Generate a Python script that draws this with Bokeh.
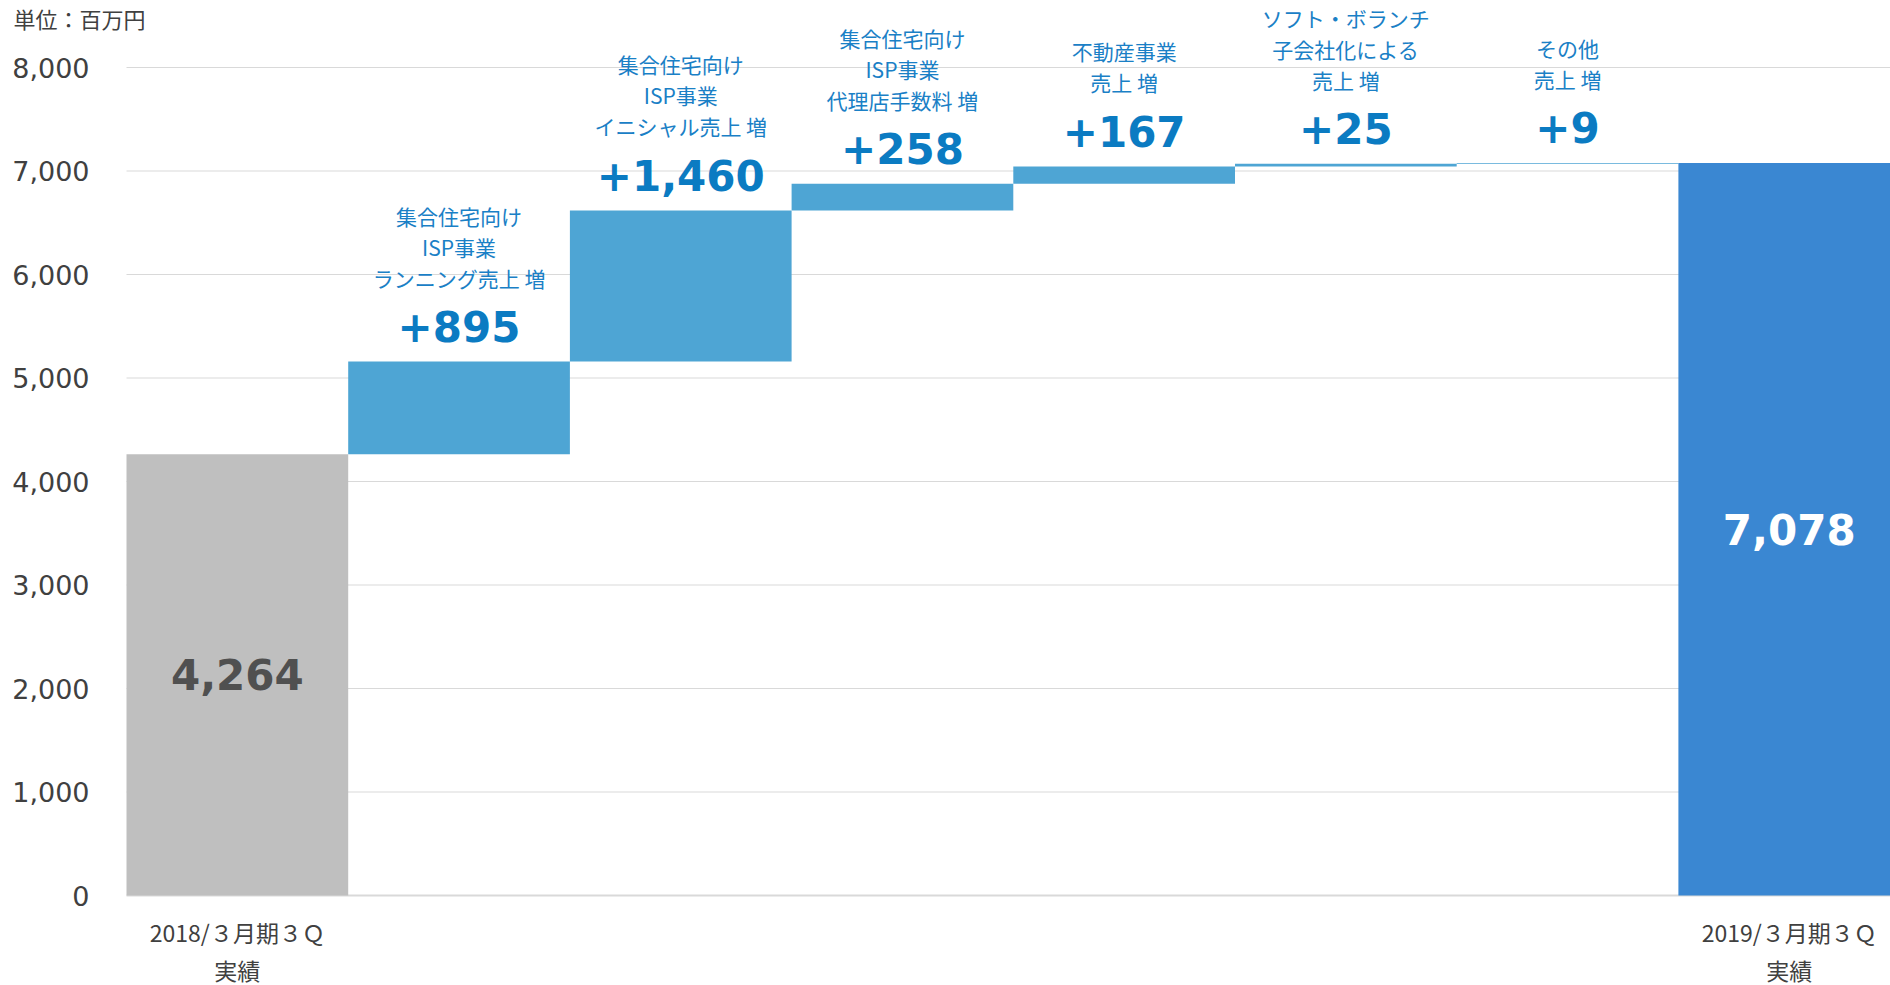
from bokeh.plotting import figure
from bokeh.models import Range1d, ColumnDataSource
from bokeh.core.properties import value
from bokeh.embed import file_html
from bokeh.resources import INLINE

# ---------------- data ----------------
unit_label = "単位：百万円"
start_label = ["2018/３月期３Ｑ", "実績"]
end_label = ["2019/３月期３Ｑ", "実績"]
start_value = 4264
end_value = 7078
step_values = [895, 1460, 258, 167, 25, 9]
step_notes = [
    ["集合住宅向け", "ISP事業", "ランニング売上 増"],
    ["集合住宅向け", "ISP事業", "イニシャル売上 増"],
    ["集合住宅向け", "ISP事業", "代理店手数料 増"],
    ["不動産事業", "売上 増"],
    ["ソフト・ボランチ", "子会社化による", "売上 増"],
    ["その他", "売上 増"],
]
y_ticks = [0, 1000, 2000, 3000, 4000, 5000, 6000, 7000, 8000]

# ---------------- styles ----------------
GREY = "#bfbfbf"
STEP = "#4ea5d4"
END = "#3a87d2"
NOTE = "#1a80c6"
NUM = "#0b7bc2"
AXIS_TXT = "#404040"
GRID = "#d9d9d9"
JP = value("Noto Sans CJK JP")
NUMFONT = value("DejaVu Sans")

n = len(step_values)
n_cat = n + 2
centers = [i + 0.5 for i in range(n_cat)]

bottoms, tops = [], []
level = start_value
for v in step_values:
    bottoms.append(level)
    level += v
    tops.append(level)

W, H = 1890, 985
PLOT_LEFT = 126          # px where the first category starts
CAT_PX = 221.7           # px per category
ZERO_PX = 895            # px of value 0 from top
UNIT_PX = 0.1035         # px per value unit

x_start = -PLOT_LEFT / CAT_PX
x_end = x_start + W / CAT_PX
y_end = ZERO_PX / UNIT_PX
y_start = -(H - ZERO_PX) / UNIT_PX

p = figure(width=W, height=H,
           x_range=Range1d(x_start, x_end), y_range=Range1d(y_start, y_end),
           output_backend="svg", toolbar_location=None,
           x_axis_location=None, y_axis_location=None,
           min_border_left=0, min_border_right=0,
           min_border_top=0, min_border_bottom=0)
p.outline_line_color = None
p.background_fill_color = "white"
p.border_fill_color = "white"
p.xgrid.visible = False
p.ygrid.visible = False

# value axis: gridlines and tick labels
grid_src = ColumnDataSource(dict(
    x0=[0] * len(y_ticks), x1=[n_cat] * len(y_ticks), y=y_ticks,
    w=[2 if t == 0 else 1 for t in y_ticks],
    text=[f"{t:,}" for t in y_ticks]))
p.segment(x0="x0", x1="x1", y0="y", y1="y", line_color=GRID,
          line_width="w", source=grid_src)
p.text(x="x0", y="y", text="text", source=grid_src, x_offset=-37,
       text_align="right", text_baseline="middle", text_font=NUMFONT,
       text_font_size="27px", text_color=AXIS_TXT)

# bars
bar_src = ColumnDataSource(dict(
    x=centers,
    bottom=[0] + bottoms + [0],
    top=[start_value] + tops + [end_value],
    color=[GREY] + [STEP] * n + [END],
))
p.vbar(x="x", width=1.0, bottom="bottom", top="top", fill_color="color",
       line_color=None, source=bar_src)

# step value labels
num_src = ColumnDataSource(dict(
    x=centers[1:n + 1], y=tops, text=[f"+{v:,}" for v in step_values]))
p.text(x="x", y="y", text="text", source=num_src, y_offset=-35,
       text_align="center", text_baseline="middle", text_font=NUMFONT,
       text_font_style="bold", text_font_size="42px", text_color=NUM)

# step description lines
nx, ny, nt, no = [], [], [], []
for i, lines in enumerate(step_notes):
    for k, line in enumerate(reversed(lines)):
        nx.append(centers[i + 1])
        ny.append(tops[i])
        nt.append(line)
        no.append(-(84 + 31 * k))
note_src = ColumnDataSource(dict(x=nx, y=ny, text=nt, off=no))
p.text(x="x", y="y", text="text", y_offset="off", source=note_src,
       text_align="center", text_baseline="middle", text_font=JP,
       text_font_size="21px", text_color=NOTE)

# totals inside bars
tot_src = ColumnDataSource(dict(
    x=[centers[0], centers[-1]],
    y=[start_value / 2, end_value / 2],
    text=[f"{start_value:,}", f"{end_value:,}"],
    color=["#505050", "white"]))
p.text(x="x", y="y", text="text", source=tot_src, text_color="color",
       text_align="center", text_baseline="middle", text_font=NUMFONT,
       text_font_style="bold", text_font_size="42px")

# category labels below the baseline
cx, ct, co = [], [], []
for c, lines in ((centers[0], start_label), (centers[-1], end_label)):
    for k, line in enumerate(lines):
        cx.append(c)
        ct.append(line)
        co.append(36 + 38 * k)
cat_src = ColumnDataSource(dict(x=cx, y=[0] * len(cx), text=ct, off=co))
p.text(x="x", y="y", text="text", y_offset="off", source=cat_src,
       text_align="center", text_baseline="middle", text_font=JP,
       text_font_size="23px", text_color=AXIS_TXT)

# unit label (top-left)
unit_src = ColumnDataSource(dict(x=[0], y=[y_end], text=[unit_label]))
p.text(x="x", y="y", text="text", source=unit_src, x_offset=-113, y_offset=1,
       text_align="left", text_baseline="top", text_font=JP,
       text_font_size="22px", text_color=AXIS_TXT)

open("out.html", "w").write(file_html(p, INLINE))
